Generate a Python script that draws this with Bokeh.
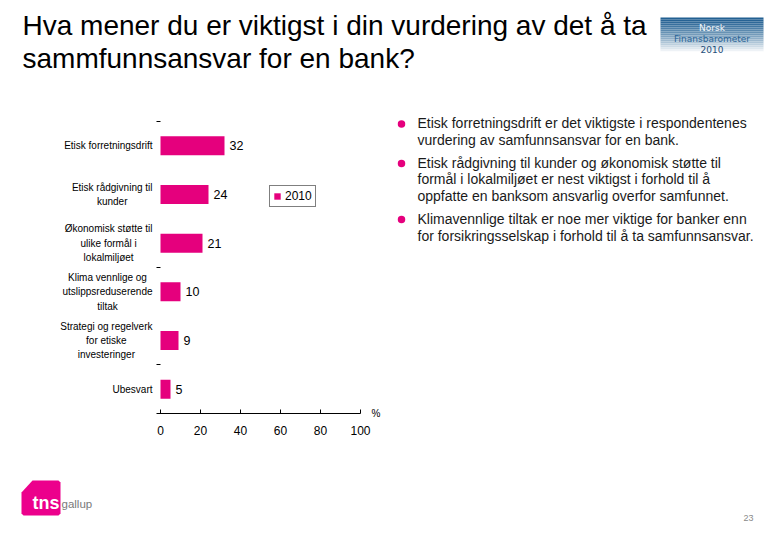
from bokeh.plotting import figure
from bokeh.layouts import column, row
from bokeh.models import Range1d, FixedTicker, Legend, LegendItem, LinearAxis
from bokeh.core.properties import value
from bokeh.embed import file_html
from bokeh.resources import INLINE

# ---------------- data ----------------
categories = [
    "Etisk forretningsdrift",
    "Etisk rådgivning til\nkunder",
    "Økonomisk støtte til\nulike formål i\nlokalmiljøet",
    "Klima vennlige og\nutslippsreduserende\ntiltak",
    "Strategi og regelverk\nfor etiske\ninvesteringer",
    "Ubesvart",
]
values_2010 = [32, 24, 21, 10, 9, 5]
series_name = "2010"
x_ticks = [0, 20, 40, 60, 80, 100]
y_marks = [0, 3, 5]
unit_label = "%"
title_lines = [
    "Hva mener du er viktigst i din vurdering av det å ta",
    "sammfunnsansvar for en bank?",
]
bullet_points = [
    ["Etisk forretningsdrift er det viktigste i respondentenes",
     "vurdering av samfunnsansvar for en bank."],
    ["Etisk rådgivning til kunder og økonomisk støtte til",
     "formål i lokalmiljøet er nest viktigst i forhold til å",
     "oppfatte en banksom ansvarlig overfor samfunnet."],
    ["Klimavennlige tiltak er noe mer viktige for banker enn",
     "for forsikringsselskap i forhold til å ta samfunnsansvar."],
]
logo_lines = ["Norsk", "Finansbarometer", "2010"]
brand_main = "tns"
brand_sub = "gallup"
page_number = "23"

# ---------------- style ----------------
FONT = "Liberation Sans"
PINK = "#E5007D"
W = 772
BAND_TOP, BAND_H = 100, 352
BT, BB = 1, 39                      # frame page y 101..413
PX_PER_CAT = 292 / 6                # bar slots are 48.7 px high
TOP_PAD = 20 / PX_PER_CAT           # empty space above the first slot
BUL_X0 = 384                        # page x where the bullets panel starts


def clean(p):
    p.outline_line_color = None
    p.background_fill_color = "white"
    p.border_fill_color = "white"
    p.grid.visible = False
    return p


# ---------------- title band (page y 0..100) ----------------
title_fig = figure(width=W, height=100, x_range=Range1d(0, W), y_range=Range1d(100, 0),
                   x_axis_location=None, y_axis_location=None, toolbar_location=None,
                   output_backend="svg", min_border=0, title=None)
clean(title_fig)
title_fig.text(x=[22] * len(title_lines), y=[25 + 33 * i for i in range(len(title_lines))],
               text=title_lines, text_font=value(FONT), text_font_size="28px",
               text_color="black", text_baseline="alphabetic", text_align="left")

# logo box with vertical gradient made of thin stripes
n_str = 19
top_rgb = (34, 96, 146)
ys, cols = [], []
for i in range(n_str):
    t = min(1.0, (i / (n_str - 2)) ** 1.3)
    r = int(top_rgb[0] + (255 - top_rgb[0]) * t)
    g = int(top_rgb[1] + (255 - top_rgb[1]) * t)
    b = int(top_rgb[2] + (255 - top_rgb[2]) * t)
    ys.append(17 + 2 * i + 1)
    cols.append("#%02x%02x%02x" % (r, g, b))
title_fig.rect(x=[711.5] * n_str, y=ys, width=103, height=2.1, fill_color=cols, line_color=None)
title_fig.text(x=[711.5] * 3, y=[27.5, 38, 48.7], text=logo_lines, text_font=value("DejaVu Sans"),
               text_font_size="9px", text_color=["#f4f7fa", "#2a6496", "#1f4f7a"],
               text_align="center", text_baseline="middle")

# ---------------- chart band (page y 100..452) ----------------
yr = Range1d(len(categories), -TOP_PAD)
ypos = [i + 0.5 for i in range(len(categories))]

chart = figure(width=BUL_X0 - 153, height=BAND_H, x_range=Range1d(-2, 100), y_range=yr,
               toolbar_location=None, output_backend="svg", title=None,
               min_border_left=3, min_border_right=BUL_X0 - 360,
               min_border_top=BT, min_border_bottom=BB)
clean(chart)
bars = chart.hbar(y=ypos, left=0, right=values_2010, height=0.39, fill_color=PINK, line_color=None)
chart.text(x=values_2010, y=ypos, text=[str(v) for v in values_2010], x_offset=5,
           text_font=value(FONT), text_font_size="12.5px", text_color="black",
           text_baseline="middle", text_align="left")

xa = chart.xaxis[0]
xa.ticker = FixedTicker(ticks=x_ticks)
xa.major_tick_in = 4
xa.major_tick_out = 0
xa.minor_tick_line_color = None
xa.axis_line_color = "black"
xa.major_tick_line_color = "black"
xa.major_label_text_font = FONT
xa.major_label_text_font_size = "12px"
xa.major_label_text_color = "black"
xa.major_label_standoff = 12

ya = chart.yaxis[0]
ya.ticker = FixedTicker(ticks=y_marks)
ya.major_tick_in = 4
ya.major_tick_out = 0
ya.minor_tick_line_color = None
ya.axis_line_color = None
ya.major_tick_line_color = "black"
ya.major_tick_line_width = 1
ya.major_label_overrides = {m: "" for m in y_marks}
ya.major_label_standoff = 0

# unit sign "%" at the right end of the value axis (a right axis with one label)
n_cat = len(categories)
unit_axis = LinearAxis(ticker=FixedTicker(ticks=[n_cat]), major_label_overrides={n_cat: unit_label},
                       axis_line_color=None, major_tick_line_color=None, minor_tick_line_color=None,
                       major_tick_in=0, major_tick_out=0, major_label_standoff=11,
                       major_label_text_font=FONT, major_label_text_font_size="10px",
                       major_label_text_color="black")
chart.add_layout(unit_axis, "right")

legend = Legend(items=[LegendItem(label=series_name, renderers=[bars])], location=(113, 206),
                glyph_width=8, glyph_height=8, padding=3, spacing=0, margin=0,
                label_standoff=4, label_height=12, label_text_font=FONT,
                label_text_font_size="12px", label_text_color="black",
                border_line_color="black", border_line_width=1, background_fill_alpha=1)
chart.add_layout(legend)

labels_fig = figure(width=153, height=BAND_H, x_range=Range1d(0, 153), y_range=yr,
                    x_axis_location=None, y_axis_location=None, toolbar_location=None,
                    output_backend="svg", min_border_left=0, min_border_right=0, title=None,
                    min_border_top=BT, min_border_bottom=BB)
clean(labels_fig)
labels_fig.text(x=[152] * len(categories), y=ypos, text=categories, text_font=value(FONT),
                text_font_size="10px", text_color="black", text_align="center",
                anchor=value("center_right"), text_line_height=1.3)

# bullets panel: its frame is aligned with the chart frame (page y 101..413)
bul = figure(width=W - BUL_X0, height=BAND_H, x_range=Range1d(BUL_X0, W),
             y_range=Range1d(BAND_TOP + BAND_H - BB, BAND_TOP + BT),
             x_axis_location=None, y_axis_location=None, toolbar_location=None,
             output_backend="svg", min_border_left=0, min_border_right=0,
             min_border_top=BT, min_border_bottom=BB, title=None)
clean(bul)
bx, by, tx, ty, tt = [], [], [], [], []
y = 122.8
for para in bullet_points:
    bx.append(401)
    by.append(y + 0.8)
    for line in para:
        tx.append(417)
        ty.append(y)
        tt.append(line)
        y += 16.7
    y += 6
bul.scatter(x=bx, y=by, marker="circle", size=7.5, fill_color=PINK, line_color=None)
bul.text(x=tx, y=ty, text=tt, text_font=value(FONT), text_font_size="14px", text_color="#1a1a1a",
         text_baseline="middle", text_align="left")

# ---------------- footer band (page y 452..532) ----------------
foot = figure(width=W, height=80, x_range=Range1d(0, W), y_range=Range1d(532, 452),
              x_axis_location=None, y_axis_location=None, toolbar_location=None,
              output_backend="svg", min_border=0, title=None)
clean(foot)
foot.patch(x=[32, 58, 60, 60, 58, 23, 21, 21], y=[480, 480, 482, 513, 515, 515, 513, 492],
           fill_color="#EC008C", line_color=None)
foot.text(x=[32], y=[502], text=[brand_main], text_font=value(FONT), text_font_size="18px",
          text_font_style="bold", text_color="white", text_baseline="middle")
foot.text(x=[61], y=[503], text=[brand_sub], text_font=value(FONT), text_font_size="11.5px",
          text_color="#7a7a7a", text_baseline="middle")
foot.text(x=[748], y=[517], text=[page_number], text_font=value(FONT), text_font_size="9px",
          text_color="#8a8a8a", text_baseline="middle", text_align="center")

layout = column(title_fig, row(labels_fig, chart, bul), foot)
open("out.html", "w").write(file_html(layout, INLINE))
